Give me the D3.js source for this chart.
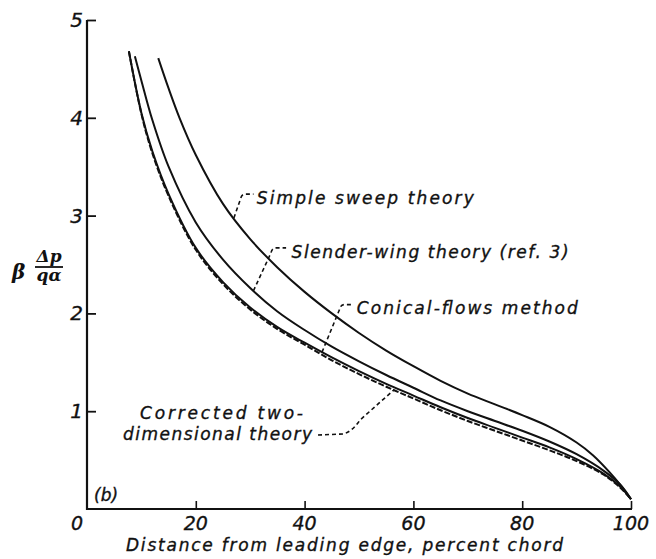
<!DOCTYPE html>
<html>
<head>
<meta charset="utf-8">
<script src="https://cdn.jsdelivr.net/npm/d3@7/dist/d3.min.js"></script>
<style>
  html, body { margin: 0; padding: 0; background: #fff; }
  svg { display: block; }
  .lbl { font-family: "DejaVu Sans", sans-serif; font-style: italic; fill: #111; stroke: #111; stroke-width: 0.35; }
</style>
</head>
<body>
<svg id="chart" width="656" height="559"></svg>
<script>
// Chordwise load distribution, beta*dp/(q*alpha), versus percent chord
const xTicks = [20, 40, 60, 80, 100];
const yTicks = [1, 2, 3, 4, 5];

const simpleX = [13.1, 15, 17, 20, 25, 30, 35, 40, 45, 50, 55, 60, 65, 70, 75, 80, 85, 90, 93, 96, 98, 100];
const simpleY = [4.61, 4.3, 4.0, 3.62, 3.12, 2.76, 2.47, 2.22, 2.0, 1.8, 1.62, 1.46, 1.31, 1.18, 1.07, 0.96, 0.84, 0.68, 0.55, 0.38, 0.25, 0.1];

const slenderX = [8.8, 10, 12, 15, 20, 25, 30, 35, 40, 45, 50, 55, 60, 65, 70, 75, 80, 85, 90, 95, 98, 100];
const slenderY = [4.63, 4.38, 3.98, 3.5, 2.93, 2.55, 2.26, 2.02, 1.83, 1.66, 1.51, 1.37, 1.24, 1.11, 1.0, 0.9, 0.8, 0.69, 0.56, 0.39, 0.25, 0.1];

const conicalX = [7.7, 10, 12, 15, 20, 25, 30, 35, 40, 45, 50, 55, 60, 65, 70, 75, 80, 85, 90, 95, 98, 100];
const conicalY = [4.68, 4.05, 3.66, 3.22, 2.67, 2.32, 2.06, 1.86, 1.7, 1.55, 1.41, 1.28, 1.16, 1.04, 0.93, 0.83, 0.73, 0.63, 0.51, 0.36, 0.23, 0.1];

const correctedX = [7.7, 10, 12, 15, 20, 25, 30, 35, 40, 45, 50, 55, 60, 65, 70, 75, 80, 85, 90, 95, 98, 100];
const correctedY = [4.68, 4.04, 3.64, 3.2, 2.65, 2.3, 2.04, 1.84, 1.68, 1.52, 1.38, 1.25, 1.13, 1.01, 0.9, 0.8, 0.7, 0.6, 0.49, 0.35, 0.22, 0.1];

const svg = d3.select("#chart");
svg.append("rect").attr("width", 656).attr("height", 559).attr("fill", "#fff");

const x = d3.scaleLinear().domain([0, 100]).range([87, 631]);
const y = d3.scaleLinear().domain([0, 5]).range([509, 20]);

// axes
const gx = svg.append("g").attr("transform", `translate(0,${y(0)})`)
  .call(d3.axisBottom(x).tickValues(xTicks).tickSize(-8).tickFormat(""));
gx.select(".domain").attr("d", `M${x(0) - 1},0H${x(100) + 1}`).attr("stroke", "#111").attr("stroke-width", 2);
gx.selectAll(".tick line").attr("stroke", "#111").attr("stroke-width", 1.6);

const gy = svg.append("g").attr("transform", `translate(${x(0)},0)`)
  .call(d3.axisRight(y).tickValues(yTicks).tickSize(9).tickFormat(""));
gy.select(".domain").attr("d", `M0,${y(0) + 1}V${y(5)}`).attr("stroke", "#111").attr("stroke-width", 2.2);
gy.selectAll(".tick line").attr("stroke", "#111").attr("stroke-width", 1.8);

// tick labels
svg.append("g").selectAll("text").data([0].concat(xTicks)).join("text")
  .attr("class", "lbl").attr("font-size", 19)
  .attr("x", d => d === 0 ? x(0) - 10 : x(d))
  .attr("y", y(0) + 21)
  .attr("text-anchor", "middle")
  .text(d => d);

svg.append("g").selectAll("text").data(yTicks).join("text")
  .attr("class", "lbl").attr("font-size", 20)
  .attr("x", x(0) - 4).attr("y", d => y(d) + 7)
  .attr("text-anchor", "end")
  .text(d => d);

// axis titles
svg.append("text").attr("class", "lbl").attr("font-size", 17)
  .attr("x", 126).attr("y", 551)
  .attr("textLength", 437).attr("lengthAdjust", "spacing")
  .text("Distance from leading edge, percent chord");

const yl = svg.append("g").attr("font-family", "'DejaVu Serif', serif")
  .attr("font-style", "italic").attr("font-weight", "bold").attr("fill", "#111");
yl.append("text").attr("x", 12).attr("y", 279).attr("font-size", 20).text("β");
yl.append("text").attr("x", 49).attr("y", 262).attr("font-size", 17).attr("text-anchor", "middle").text("Δp");
yl.append("line").attr("x1", 35).attr("x2", 63).attr("y1", 267).attr("y2", 267)
  .attr("stroke", "#111").attr("stroke-width", 1.8);
yl.append("text").attr("x", 49).attr("y", 281).attr("font-size", 17).attr("text-anchor", "middle").text("qα");

svg.append("text").attr("class", "lbl").attr("font-size", 17)
  .attr("x", 94).attr("y", 501).text("(b)");

// curves
const line = d3.line().x(d => x(d[0])).y(d => y(d[1])).curve(d3.curveCatmullRom.alpha(0.5));
const zipXY = (xs, ys) => xs.map((v, i) => [v, ys[i]]);

const series = [
  { xs: simpleX, ys: simpleY, dash: null, w: 2 },
  { xs: slenderX, ys: slenderY, dash: null, w: 2 },
  { xs: conicalX, ys: conicalY, dash: null, w: 2 },
  { xs: correctedX, ys: correctedY, dash: "6,2", w: 2 }
];
svg.append("g").selectAll("path").data(series).join("path")
  .attr("d", s => line(zipXY(s.xs, s.ys)))
  .attr("fill", "none").attr("stroke", "#111")
  .attr("stroke-width", s => s.w)
  .attr("stroke-dasharray", s => s.dash);

// value on a curve at a given chord position, for leader anchors
function at(xs, ys, xv) {
  for (let i = 1; i < xs.length; i++) {
    if (xv <= xs[i]) {
      const t = (xv - xs[i - 1]) / (xs[i] - xs[i - 1]);
      return ys[i - 1] + t * (ys[i] - ys[i - 1]);
    }
  }
  return ys[ys.length - 1];
}

// curve labels with dashed leaders
const notes = [
  { text: "Simple sweep theory", xs: simpleX, ys: simpleY, anchor: 27.0,
    corner: [28.4, 3.22], tail: 30.6, tx: 31.2, ty: 3.12, len: 217 },
  { text: "Slender-wing theory (ref. 3)", xs: slenderX, ys: slenderY, anchor: 30.6,
    corner: [34.0, 2.67], tail: 36.6, tx: 37.6, ty: 2.57, len: 277 },
  { text: "Conical-flows method", xs: conicalX, ys: conicalY, anchor: 43.2,
    corner: [46.6, 2.09], tail: 48.9, tx: 49.6, ty: 1.99, len: 221 }
];
const gn = svg.append("g");
notes.forEach(n => {
  const p0 = [x(n.anchor), y(at(n.xs, n.ys, n.anchor))];
  const p1 = [x(n.corner[0]), y(n.corner[1])];
  gn.append("path")
    .attr("d", `M${p0[0]},${p0[1]}L${p1[0] - 1},${p1[1] + 5}Q${p1[0]},${p1[1]} ${p1[0] + 4},${p1[1]}L${x(n.tail)},${p1[1]}`)
    .attr("fill", "none").attr("stroke", "#111").attr("stroke-width", 1.6)
    .attr("stroke-dasharray", "4,3");
  gn.append("text").attr("class", "lbl").attr("font-size", 17)
    .attr("x", x(n.tx)).attr("y", y(n.ty))
    .attr("textLength", n.len).attr("lengthAdjust", "spacing")
    .text(n.text);
});

// two-line label for the corrected two-dimensional curve
gn.append("text").attr("class", "lbl").attr("font-size", 17)
  .attr("x", 140).attr("y", 419).attr("textLength", 163).attr("lengthAdjust", "spacing")
  .text("Corrected two-");
gn.append("text").attr("class", "lbl").attr("font-size", 17)
  .attr("x", 123).attr("y", 440).attr("textLength", 189).attr("lengthAdjust", "spacing")
  .text("dimensional theory");
const cAnchor = 56.4;
const ca = [x(cAnchor), y(at(correctedX, correctedY, cAnchor))];
gn.append("path")
  .attr("d", `M318,435L343,434Q352,432 360,420L${ca[0]},${ca[1]}`)
  .attr("fill", "none").attr("stroke", "#111").attr("stroke-width", 1.6)
  .attr("stroke-dasharray", "4,3");
</script>
</body>
</html>
